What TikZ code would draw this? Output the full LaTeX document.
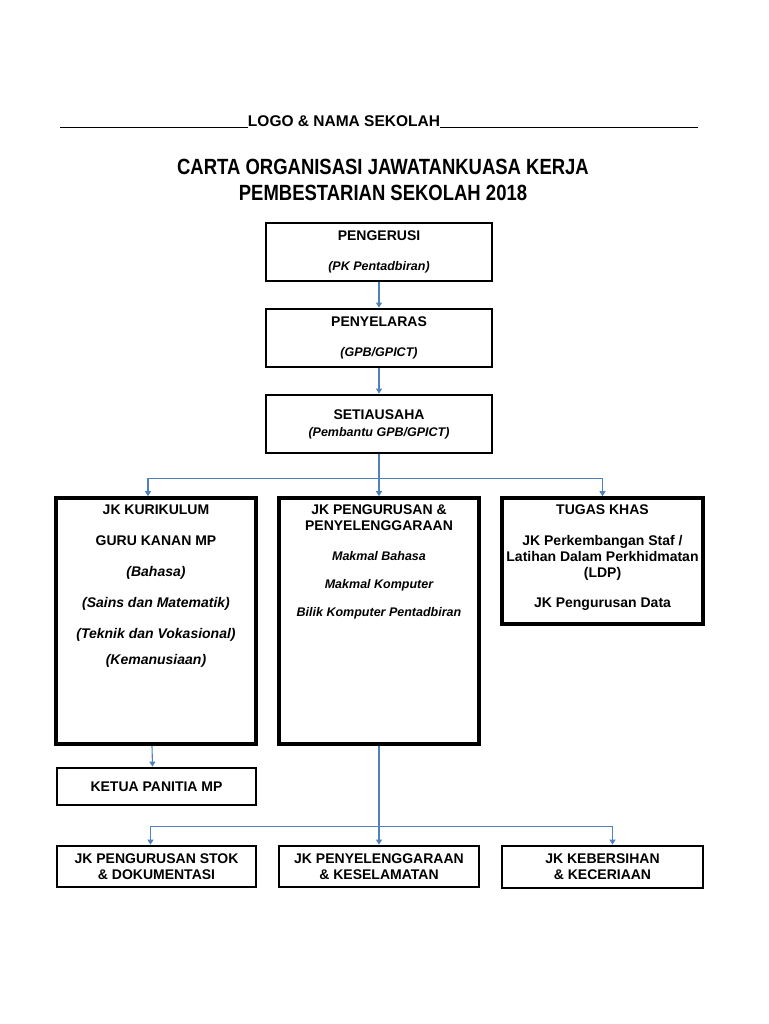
\documentclass[tikz,border=0pt]{standalone}
\usepackage{fontspec}
\setmainfont{Liberation Sans}
\newfontfamily\narrowfont[FakeStretch=0.84]{Liberation Sans}
\usetikzlibrary{positioning, arrows.meta}
\definecolor{LinkColor}{RGB}{79,129,189}
\newcommand{\unitnote}[1]{{\itshape\fontsize{12.5}{15}\selectfont #1}}
\tikzstyle{unit} = [draw, line width=2.8pt, align=center, inner sep=0pt, font=\bfseries\fontsize{14}{16}\selectfont]
\tikzstyle{bigunit} = [unit, line width=3.6pt]
\tikzstyle{unittext} = [align=center, inner sep=0pt, font=\bfseries\fontsize{14}{16}\selectfont]
\tikzstyle{trunk} = [line width=1.1pt, LinkColor]
\tikzstyle{link} = [trunk, -{Triangle[width=6pt,length=5pt]}]
\begin{document}
\begin{tikzpicture}[x=1pt, y=-1pt]
    \fill[white] (0,0) rectangle (768,1024);
    \useasboundingbox (0,0) rectangle (768,1024);
    % Header and title
    \node[inner sep=0pt, font=\bfseries\fontsize{15.5}{18}\selectfont] (logo) at (344,121) {LOGO \& NAMA SEKOLAH};
    \coordinate (rulel) at (60,128);
    \coordinate (ruler) at (698,128);
    \draw[line width=1pt] (rulel) -- (rulel -| logo.west);
    \draw[line width=1pt] (logo.east |- ruler) -- (ruler);
    \node[align=center, font=\narrowfont\bfseries\fontsize{22}{26}\selectfont] (title) at (383,180) {CARTA ORGANISASI JAWATANKUASA KERJA\\PEMBESTARIAN SEKOLAH 2018};

    % Top chain
    \node[unit, minimum width=226pt, minimum height=58pt] (chair) at (379,252) {PENGERUSI\\[14pt]\unitnote{(PK Pentadbiran)}};
    \node[unit, minimum width=226pt, minimum height=58pt] (coord) at (379,338) {PENYELARAS\\[14pt]\unitnote{(GPB/GPICT)}};
    \node[unit, minimum width=226pt, minimum height=58pt] (secretary) at (379,424) {SETIAUSAHA\\[1pt]\unitnote{(Pembantu GPB/GPICT)}};

    % Middle row
    \node[bigunit, minimum width=200pt, minimum height=246pt] (curri) at (156,621) {};
    \node[unittext, below=8pt of curri.north] (curritext) {JK KURIKULUM\\[15pt]GURU KANAN MP\\[15pt]\textit{(Bahasa)}\\[15pt]\textit{(Sains dan Matematik)}\\[15pt]\textit{(Teknik dan Vokasional)}\\[10pt]\textit{(Kemanusiaan)}};
    \node[bigunit, minimum width=200pt, minimum height=246pt] (manage) at (379,621) {};
    \node[unittext, below=8pt of manage.north] (managetext) {JK PENGURUSAN \&\\PENYELENGGARAAN\\[14pt]\unitnote{Makmal Bahasa}\\[12pt]\unitnote{Makmal Komputer}\\[12pt]\unitnote{Bilik Komputer Pentadbiran}};
    \node[bigunit, minimum width=201pt, minimum height=126pt] (special) at (602.5,561) {};
    \node[unittext, below=8pt of special.north] (specialtext) {TUGAS KHAS\\[15pt]JK Perkembangan Staf /\\Latihan Dalam Perkhidmatan\\(LDP)\\[14pt]JK Pengurusan Data};

    % Lower row
    \node[unit, minimum width=199pt, minimum height=37pt] (panel) at (156.5,786.5) {KETUA PANITIA MP};
    \node[unit, minimum width=199pt, minimum height=41pt] (stock) at (156.5,866.5) {JK PENGURUSAN STOK\\\& DOKUMENTASI};
    \node[unit, minimum width=200pt, minimum height=41pt] (safety) at (379,866.5) {JK PENYELENGGARAAN\\\& KESELAMATAN};
    \node[unit, minimum width=201pt, minimum height=42pt] (clean) at (602.5,867) {JK KEBERSIHAN\\\& KECERIAAN};

    % Connectors
    \draw[link] (chair) -- (coord);
    \draw[link] (coord) -- (secretary);
    \draw[trunk] (secretary.south) -- ++(0,24) coordinate (fork);
    \draw[link] (fork) -| ([xshift=-8pt]curri.north);
    \draw[link] (fork) -- (manage.north);
    \draw[link] (fork) -| (special.north);
    \draw[link] ([xshift=-4pt]curri.south) -- ([xshift=-4pt]panel.north);
    \draw[trunk] (manage.south) -- ++(0,81) coordinate (lowfork);
    \draw[link] (lowfork) -| ([xshift=-6pt]stock.north);
    \draw[link] (lowfork) -- (safety.north);
    \draw[link] (lowfork) -| ([xshift=10pt]clean.north);
\end{tikzpicture}
\end{document}
